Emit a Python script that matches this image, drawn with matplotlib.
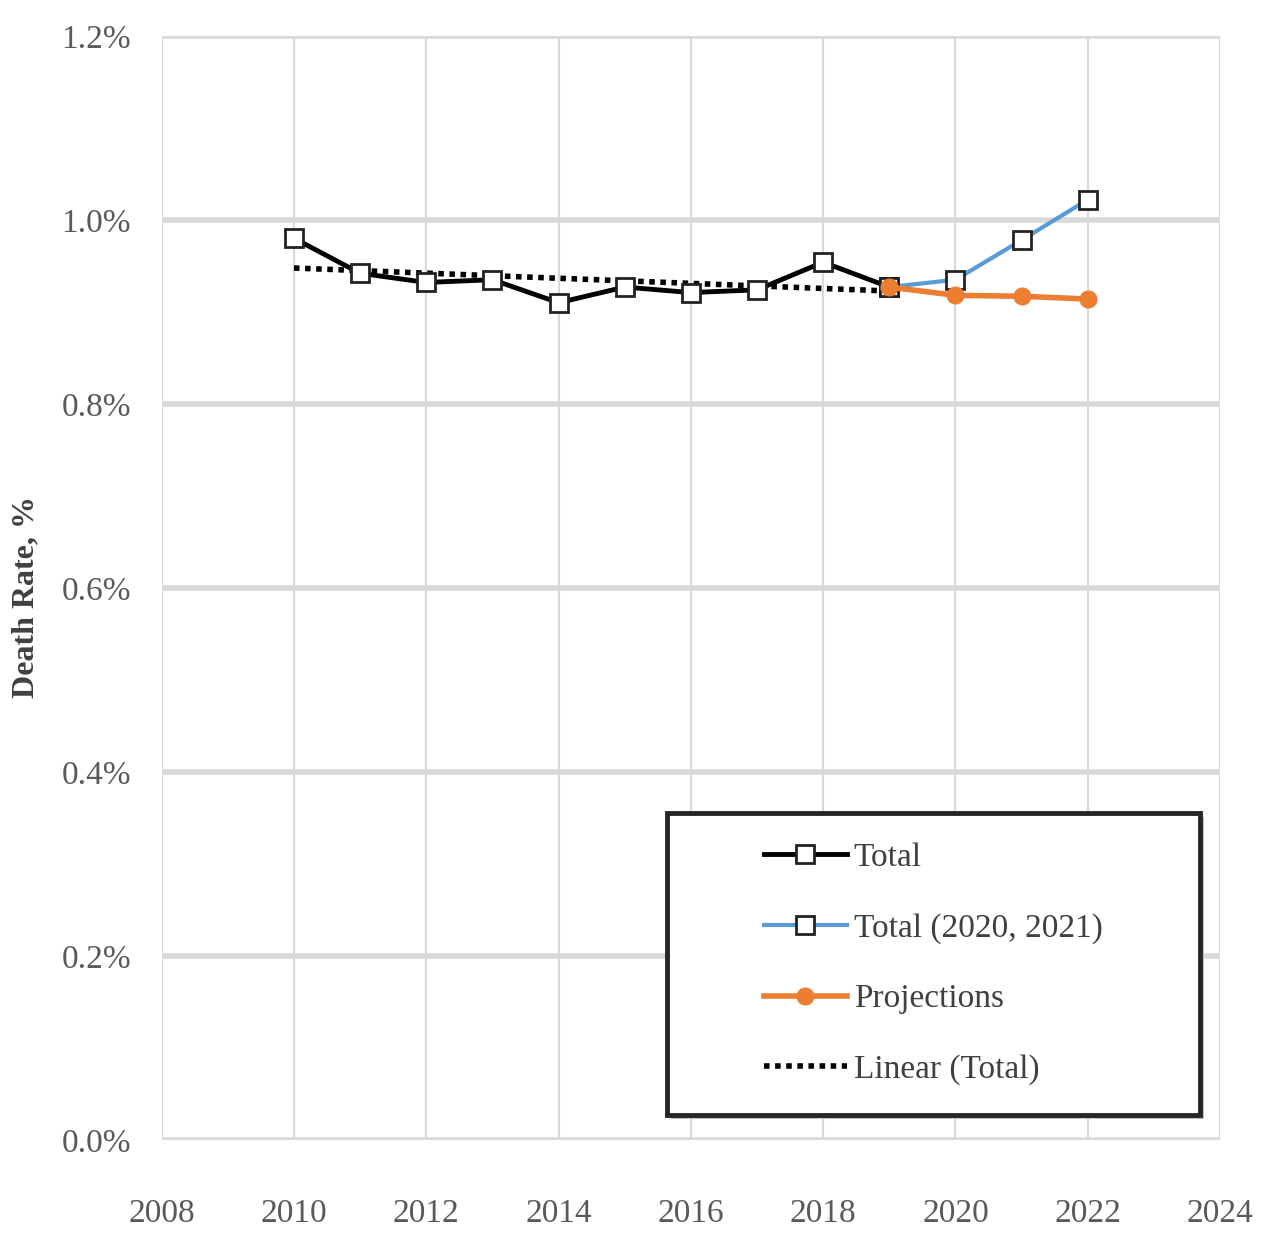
import numpy as np
import matplotlib.pyplot as plt
from matplotlib.patches import Rectangle

# values (death rate in %)
years = [2010, 2011, 2012, 2013, 2014, 2015, 2016, 2017, 2018, 2019]
total = [0.980, 0.942, 0.932, 0.935, 0.910, 0.927, 0.921, 0.924, 0.954, 0.927]

years_covid = [2019, 2020, 2021, 2022]
total_covid = [0.927, 0.935, 0.978, 1.022]

years_proj = [2019, 2020, 2021, 2022]
projections = [0.927, 0.918, 0.917, 0.914]

x_ticks = [2008, 2010, 2012, 2014, 2016, 2018, 2020, 2022, 2024]
y_ticks = [0.0, 0.2, 0.4, 0.6, 0.8, 1.0, 1.2]

plt.rcParams['font.family'] = ['Liberation Serif', 'DejaVu Serif']

fig = plt.figure(figsize=(12.63, 12.37), dpi=100)
ax = fig.add_axes([0.128, 0.0784, 0.838, 0.8926])

# linear trend of Total, as Excel does it
coef = np.polyfit(years, total, 1)
trend = np.polyval(coef, years)

ax.plot(years, trend, color='black', lw=4, ls=(0, (1, 1)), label='Linear (Total)', zorder=2)
ax.plot(years, total, color='black', lw=3.5, marker='s', ms=13, mfc='white', mec='#222222', mew=2,
        label='Total', zorder=4)
ax.plot(years_covid, total_covid, color='#5b9bd5', lw=3, marker='s', ms=13, mfc='white', mec='#222222',
        mew=2, label='Total (2020, 2021)', zorder=3)
ax.plot(years_proj, projections, color='#ed7d31', lw=4, marker='o', ms=12, mfc='#ed7d31', mec='#ed7d31',
        label='Projections', zorder=5)

ax.set_xlim(2008, 2024)
ax.set_ylim(0, 1.2)
ax.set_xticks(x_ticks)
ax.set_yticks(y_ticks)
ax.set_yticklabels([f'{v:.1f}%' for v in y_ticks])
ax.tick_params(axis='both', length=0, labelsize=24, colors='#595959')
ax.tick_params(axis='x', pad=42)
ax.tick_params(axis='y', pad=22)

ax.grid(axis='y', color='#d9d9d9', lw=4)
ax.grid(axis='x', color='#d9d9d9', lw=1.5)
ax.set_axisbelow(True)
for s in ax.spines.values():
    s.set_visible(False)

ax.set_ylabel('Death Rate, %', fontsize=23, fontweight='bold', color='#404040', va='center')
ax.yaxis.set_label_coords(-0.128, 0.492)

# legend box with thick frame and soft shadow
bx, by, bw, bh = 0.477, 0.0226, 0.504, 0.274
ax.add_patch(Rectangle((bx + 0.004, by - 0.004), bw, bh, transform=ax.transAxes,
                       facecolor='#bfbfbf', edgecolor='none', zorder=6))
ax.add_patch(Rectangle((bx, by), bw, bh, transform=ax.transAxes,
                       facecolor='white', edgecolor='#262626', lw=3.5, zorder=7))
handles, labels = ax.get_legend_handles_labels()
order = [1, 2, 3, 0]
leg = ax.legend([handles[i] for i in order], [labels[i] for i in order],
                loc='center', bbox_to_anchor=(bx + bw / 2, by + bh / 2), frameon=False,
                fontsize=24, labelspacing=1.2, handlelength=2.5, handletextpad=0.2,
                labelcolor='#404040')
leg.set_zorder(8)

fig.savefig('out.png', dpi=100)
